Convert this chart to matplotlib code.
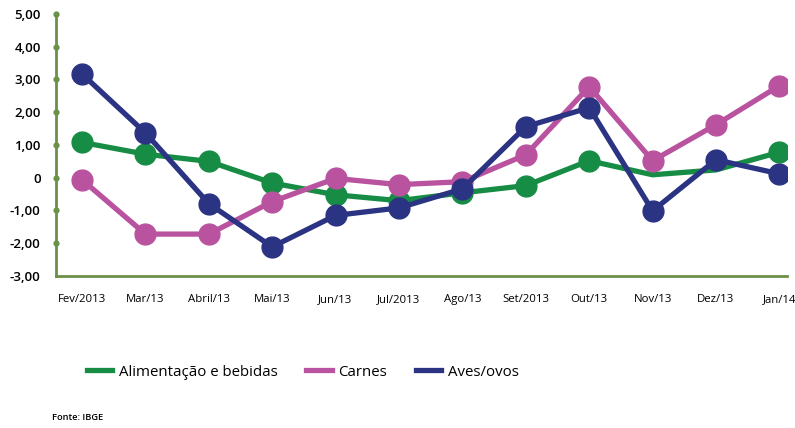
import numpy as np
import matplotlib.pyplot as plt
from matplotlib.lines import Line2D

meses = ["Fev/2013", "Mar/13", "Abril/13", "Mai/13", "Jun/13", "Jul/2013",
         "Ago/13", "Set/2013", "Out/13", "Nov/13", "Dez/13", "Jan/14"]

alimentacao = [1.08, 0.72, 0.50, -0.16, -0.52, -0.70, -0.46, -0.24, 0.52, 0.09, 0.24, 0.78]
carnes = [-0.06, -1.72, -1.72, -0.73, -0.02, -0.21, -0.12, 0.70, 2.78, 0.52, 1.62, 2.81]
aves = [3.17, 1.37, -0.79, -2.11, -1.15, -0.92, -0.34, 1.56, 2.14, -1.01, 0.55, 0.12]

# Nov e Dez sem marcador na série verde
marcas_alim = [0, 1, 2, 3, 4, 5, 6, 7, 8, 11]

verde = "#168c45"
rosa = "#b9529f"
azul = "#2b3383"
eixo = "#6b9149"

plt.rcParams['font.family'] = ['Open Sans', 'DejaVu Sans']

fig = plt.figure(figsize=(7.95, 4.28), dpi=100)
ax = fig.add_axes([56 / 795, 1 - 276 / 428, (787 - 56) / 795, (276 - 14) / 428])

x = np.arange(len(meses))
ax.plot(x, alimentacao, color=verde, lw=3.8, marker='o', ms=15,
        markevery=marcas_alim, label="Alimentação e bebidas", zorder=3)
ax.plot(x, carnes, color=rosa, lw=3.8, marker='o', ms=15, label="Carnes", zorder=4)
ax.plot(x, aves, color=azul, lw=3.8, marker='o', ms=15, label="Aves/ovos", zorder=5)

ax.set_xlim(-0.41, 11.12)
ax.set_ylim(-3, 5)
ax.set_yticks(range(-3, 6))
ax.set_yticklabels(["-3,00", "-2,00", "-1,00", "0", "1,00", "2,00", "3,00", "4,00", "5,00"],
                   fontsize=9.5, fontweight='semibold')
ax.set_xticks(x)
ax.set_xticklabels(meses, fontsize=8.2)
ax.tick_params(axis='both', length=0)
ax.tick_params(axis='y', pad=11)
ax.tick_params(axis='x', pad=13)

for s in ["top", "right"]:
    ax.spines[s].set_visible(False)
for s in ["left", "bottom"]:
    ax.spines[s].set_color(eixo)
    ax.spines[s].set_linewidth(2)

# pontos sobre o eixo y
ax.scatter(np.zeros(8), np.arange(-2, 6), s=12, color=eixo,
           transform=ax.get_yaxis_transform(), clip_on=False, zorder=6)

handles, labels = ax.get_legend_handles_labels()
hs = [Line2D([], [], color=c, lw=3.8) for c in (verde, rosa, azul)]
fig.legend(hs, labels, loc='center left', bbox_to_anchor=(73 / 795, 1 - 372 / 428),
           ncol=3, frameon=False, fontsize=10.8, handlelength=1.7, handletextpad=0.45,
           columnspacing=1.9)

fig.text(52 / 795, 1 - 418 / 428, "Fonte: IBGE", fontsize=6.7, fontweight='semibold', va='center')

fig.savefig("out.png", dpi=100)
